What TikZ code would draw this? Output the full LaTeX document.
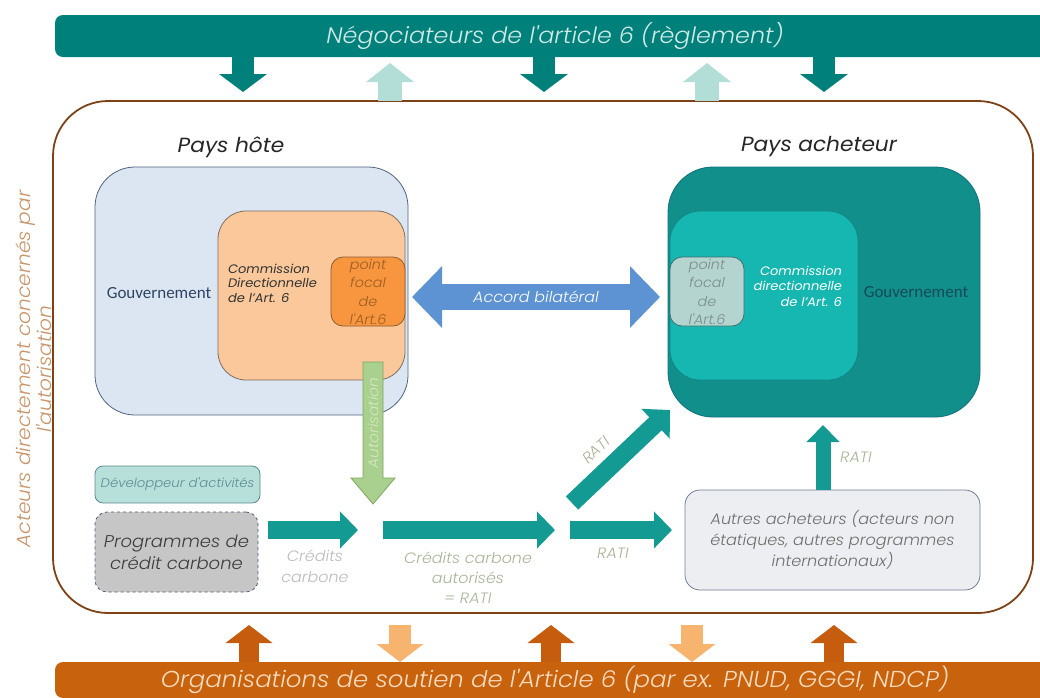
\documentclass[tikz,border=0pt]{standalone}
\usepackage{fontspec}
\setmainfont{Poppins}[FakeStretch=1.06]
\newfontfamily\lightf{Poppins Light}[ItalicFont={Poppins Light Italic}, FakeStretch=1.06]
\newfontfamily\calfont{Carlito}
\usetikzlibrary{arrows.meta}
\definecolor{tealbar}{HTML}{00807A}
\definecolor{tealtext}{HTML}{CFEAE7}
\definecolor{lightteal}{HTML}{B3DED8}
\definecolor{brownc}{HTML}{7E4216}
\definecolor{lefttext}{HTML}{C89468}
\definecolor{hblue}{HTML}{DCE6F2}
\definecolor{hborder}{HTML}{4F6482}
\definecolor{peach}{HTML}{FAC89A}
\definecolor{peachb}{HTML}{7F6E62}
\definecolor{orangepf}{HTML}{F7963F}
\definecolor{pfborder}{HTML}{8C5B2E}
\definecolor{pftext}{HTML}{9C5D22}
\definecolor{govtext}{HTML}{2E4462}
\definecolor{blueA}{HTML}{5D93D2}
\definecolor{bteal}{HTML}{108F8B}
\definecolor{bborder}{HTML}{13707A}
\definecolor{cteal}{HTML}{17B7B1}
\definecolor{cborder}{HTML}{138585}
\definecolor{pfgray}{HTML}{B3D4CF}
\definecolor{pfgrayb}{HTML}{3D7070}
\definecolor{pfgraytext}{HTML}{7C8C8A}
\definecolor{bgovtext}{HTML}{164A5A}
\definecolor{flowteal}{HTML}{139A92}
\definecolor{gfill}{HTML}{A9D08E}
\definecolor{gborder}{HTML}{7EA65E}
\definecolor{gtext}{HTML}{D3E8C0}
\definecolor{devfill}{HTML}{B8E0DA}
\definecolor{devborder}{HTML}{5B8790}
\definecolor{devtext}{HTML}{5E8C92}
\definecolor{progfill}{HTML}{C6C6C6}
\definecolor{progborder}{HTML}{4C5C74}
\definecolor{progtext}{HTML}{3D3D3D}
\definecolor{autresfill}{HTML}{EDEEF1}
\definecolor{autresborder}{HTML}{6E7E96}
\definecolor{autrestext}{HTML}{6E6E6E}
\definecolor{ratitext}{HTML}{A8B497}
\definecolor{creditext}{HTML}{BBBBBB}
\definecolor{orangebar}{HTML}{C8620C}
\definecolor{orangetext}{HTML}{F9DCC0}
\definecolor{orangeup}{HTML}{C65C0E}
\definecolor{orangelight}{HTML}{F6B46E}
\newcommand{\fsz}[2]{\fontsize{#1}{#2}\selectfont}
\tikzset{
  box/.style={draw, line width=0.8pt, inner sep=0pt},
  bigdown/.style={line width=22pt, tealbar, -{Triangle[width=47pt,length=18pt]}},
  bigup/.style={line width=24pt, lightteal, -{Triangle[width=47pt,length=19pt]}},
  orup/.style={line width=20pt, orangeup, -{Triangle[width=46pt,length=18pt]}},
  ordown/.style={line width=22pt, orangelight, -{Triangle[width=46pt,length=18pt]}},
  flow/.style={line width=18pt, flowteal, -{Triangle[width=36pt,length=18pt]}},
  lbl/.style={font=\lightf\itshape\fsz{15}{18}, align=center},
}
\begin{document}
\begin{tikzpicture}[x=1pt,y=-1pt, every node/.style={inner sep=0pt, outer sep=0pt}]
\useasboundingbox (0,0) rectangle (1040,697);

% main brown frame
\node[draw=brownc, line width=1.8pt, rounded corners=55pt, minimum width=980pt, minimum height=512pt] (actors) at (543,357) {};

% bars
\begin{scope}
\clip (0,0) rectangle (1040,697);
\node[fill=tealbar, rounded corners=8pt, minimum width=1000pt, minimum height=42pt, text=tealtext, font=\lightf\itshape\fsz{22.5}{26}] (neg) at (555,36) {Négociateurs de l'article 6 (règlement)};
\node[fill=orangebar, rounded corners=8pt, minimum width=1000pt, minimum height=36pt, text=orangetext, font=\lightf\itshape\fsz{23}{26}] (org) at (555,680) {Organisations de soutien de l'Article 6 (par ex. PNUD, GGGI, NDCP)};
\end{scope}

% top arrows
\coordinate (t1) at (243,92);
\coordinate (t2) at (544,92);
\coordinate (t3) at (824,92);
\coordinate (u1) at (390,63);
\coordinate (u2) at (707,63);
\draw[bigdown] (neg.south -| t1) -- (t1);
\draw[bigdown] (neg.south -| t2) -- (t2);
\draw[bigdown] (neg.south -| t3) -- (t3);
\draw[bigup] (actors.north -| u1) -- (u1);
\draw[bigup] (actors.north -| u2) -- (u2);

% bottom arrows
\coordinate (b1) at (249,625);
\coordinate (b2) at (551,625);
\coordinate (b3) at (834,625);
\coordinate (d1) at (400,625);
\coordinate (d2) at (692,625);
\draw[orup] (org.north -| b1) -- (b1);
\draw[orup] (org.north -| b2) -- (b2);
\draw[orup] (org.north -| b3) -- (b3);
\draw[ordown] (d1) -- (d1 |- org.north);
\draw[ordown] (d2) -- (d2 |- org.north);

% left vertical label
\node[rotate=90, align=center, text=lefttext, font=\lightf\itshape\fsz{19}{21}] (acteurs) at (33.5,369) {Acteurs directement concernés par\\l'autorisation};

% titles
\node[font=\itshape\fsz{20.5}{24}, text=black!85] (ph) at (231,147) {Pays hôte};
\node[font=\itshape\fsz{20.5}{24}, text=black!85] (pa) at (819,147) {Pays acheteur};

% host country
\node[box, fill=hblue, draw=hborder, rounded corners=40pt, minimum width=313pt, minimum height=248pt] (hgov) at (251.5,291) {};
\node[font=\calfont\fsz{17}{20}, text=govtext] (hgovt) at (159,293) {Gouvernement};
\node[box, fill=peach, draw=peachb, rounded corners=28pt, minimum width=187pt, minimum height=169pt] (hcom) at (311.5,295.5) {};
\node[anchor=west, align=left, font=\itshape\fsz{12.3}{14.5}, text=black!80] (hcomt) at (228,283) {Commission\\Directionnelle\\de l'Art. 6};
\node[box, fill=orangepf, draw=pfborder, rounded corners=12pt, minimum width=74pt, minimum height=69pt] (hpf) at (368,291.5) {};
\node[align=center, font=\lightf\itshape\fsz{13.5}{18.5}, text=pftext] (hpft) at (368,292) {point\\focal\\de\\l'Art.6};

% buyer country
\node[box, fill=bteal, draw=bborder, rounded corners=45pt, minimum width=312pt, minimum height=250pt] (bgov) at (824,292) {};
\node[font=\calfont\fsz{17}{20}, text=bgovtext] (bgovt) at (916,292) {Gouvernement};
\node[box, fill=cteal, draw=cborder, rounded corners=30pt, minimum width=188pt, minimum height=169pt] (bcom) at (764,295.5) {};
\node[anchor=east, align=right, font=\itshape\fsz{12.3}{15.5}, text=white] (bcomt) at (842,286) {Commission\\directionnelle\\de l'Art. 6};
\node[box, fill=pfgray, draw=pfgrayb, rounded corners=12pt, minimum width=74pt, minimum height=69pt] (bpf) at (707,291.5) {};
\node[align=center, font=\lightf\itshape\fsz{13.5}{18.5}, text=pfgraytext] (bpft) at (707,292) {point\\focal\\de\\l'Art.6};

% bilateral agreement
\coordinate (a1) at (412,297);
\coordinate (a2) at (660,297);
\draw[line width=26pt, blueA, {Triangle[width=60pt,length=30pt]}-{Triangle[width=60pt,length=30pt]}] (a1) -- (a2);
\node[font=\lightf\itshape\fsz{15}{18}, text=white] (acc) at (536,297) {Accord bilatéral};

% authorisation arrow
\filldraw[fill=gfill, draw=gborder, line width=0.8pt] (363,362) -- (383,362) -- (383,478) -- (395,478) -- (373,504) -- (351,478) -- (363,478) -- cycle;
\node[rotate=90, font=\lightf\itshape\fsz{14.5}{16}, text=gtext] (auto) at (373,423) {Autorisation};

% bottom-left boxes
\node[box, fill=devfill, draw=devborder, rounded corners=8pt, minimum width=165pt, minimum height=37pt, font=\lightf\itshape\fsz{12.5}{14}, text=devtext] (dev) at (177.5,484.5) {Développeur d'activités};
\node[box, dashed, fill=progfill, draw=progborder, rounded corners=12pt, minimum width=163pt, minimum height=80pt, align=center, font=\lightf\itshape\fsz{17}{22}, text=progtext] (prog) at (176.5,552) {Programmes de\\crédit carbone};

% flow arrows
\coordinate (r1s) at (268,530);
\coordinate (r1e) at (358,530);
\coordinate (r2s) at (383,530);
\coordinate (r2e) at (555,530);
\coordinate (r3s) at (570,530);
\coordinate (r3e) at (672,530);
\coordinate (dg1) at (572,503);
\coordinate (dg2) at (670,410);
\draw[flow] (r1s) -- (r1e);
\draw[flow] (r2s) -- (r2e);
\draw[flow] (r3s) -- (r3e);
\draw[flow, -{Triangle[width=40pt,length=20pt]}] (dg1) -- (dg2);

% other buyers
\node[box, fill=autresfill, draw=autresborder, rounded corners=15pt, minimum width=295pt, minimum height=100pt, align=center, font=\lightf\itshape\fsz{15.2}{21}, text=autrestext] (autres) at (832.5,540) {Autres acheteurs (acteurs non\\étatiques, autres programmes\\internationaux)};
\coordinate (up) at (823,425);
\draw[flow, line width=15pt, -{Triangle[width=32pt,length=17pt]}] (autres.north -| up) -- (up);

% labels
\node[lbl, text=creditext, font=\lightf\itshape\fsz{15}{21}] (l1) at (315,566) {Crédits\\carbone};
\node[lbl, text=ratitext, font=\lightf\itshape\fsz{15}{20}] (l2) at (468,578) {Crédits carbone\\autorisés\\= RATI};
\node[lbl, text=ratitext] (l3) at (613,553) {RATI};
\node[lbl, text=ratitext, rotate=43] (l4) at (596,450) {RATI};
\node[lbl, text=ratitext] (l5) at (856,457) {RATI};
\end{tikzpicture}
\end{document}
